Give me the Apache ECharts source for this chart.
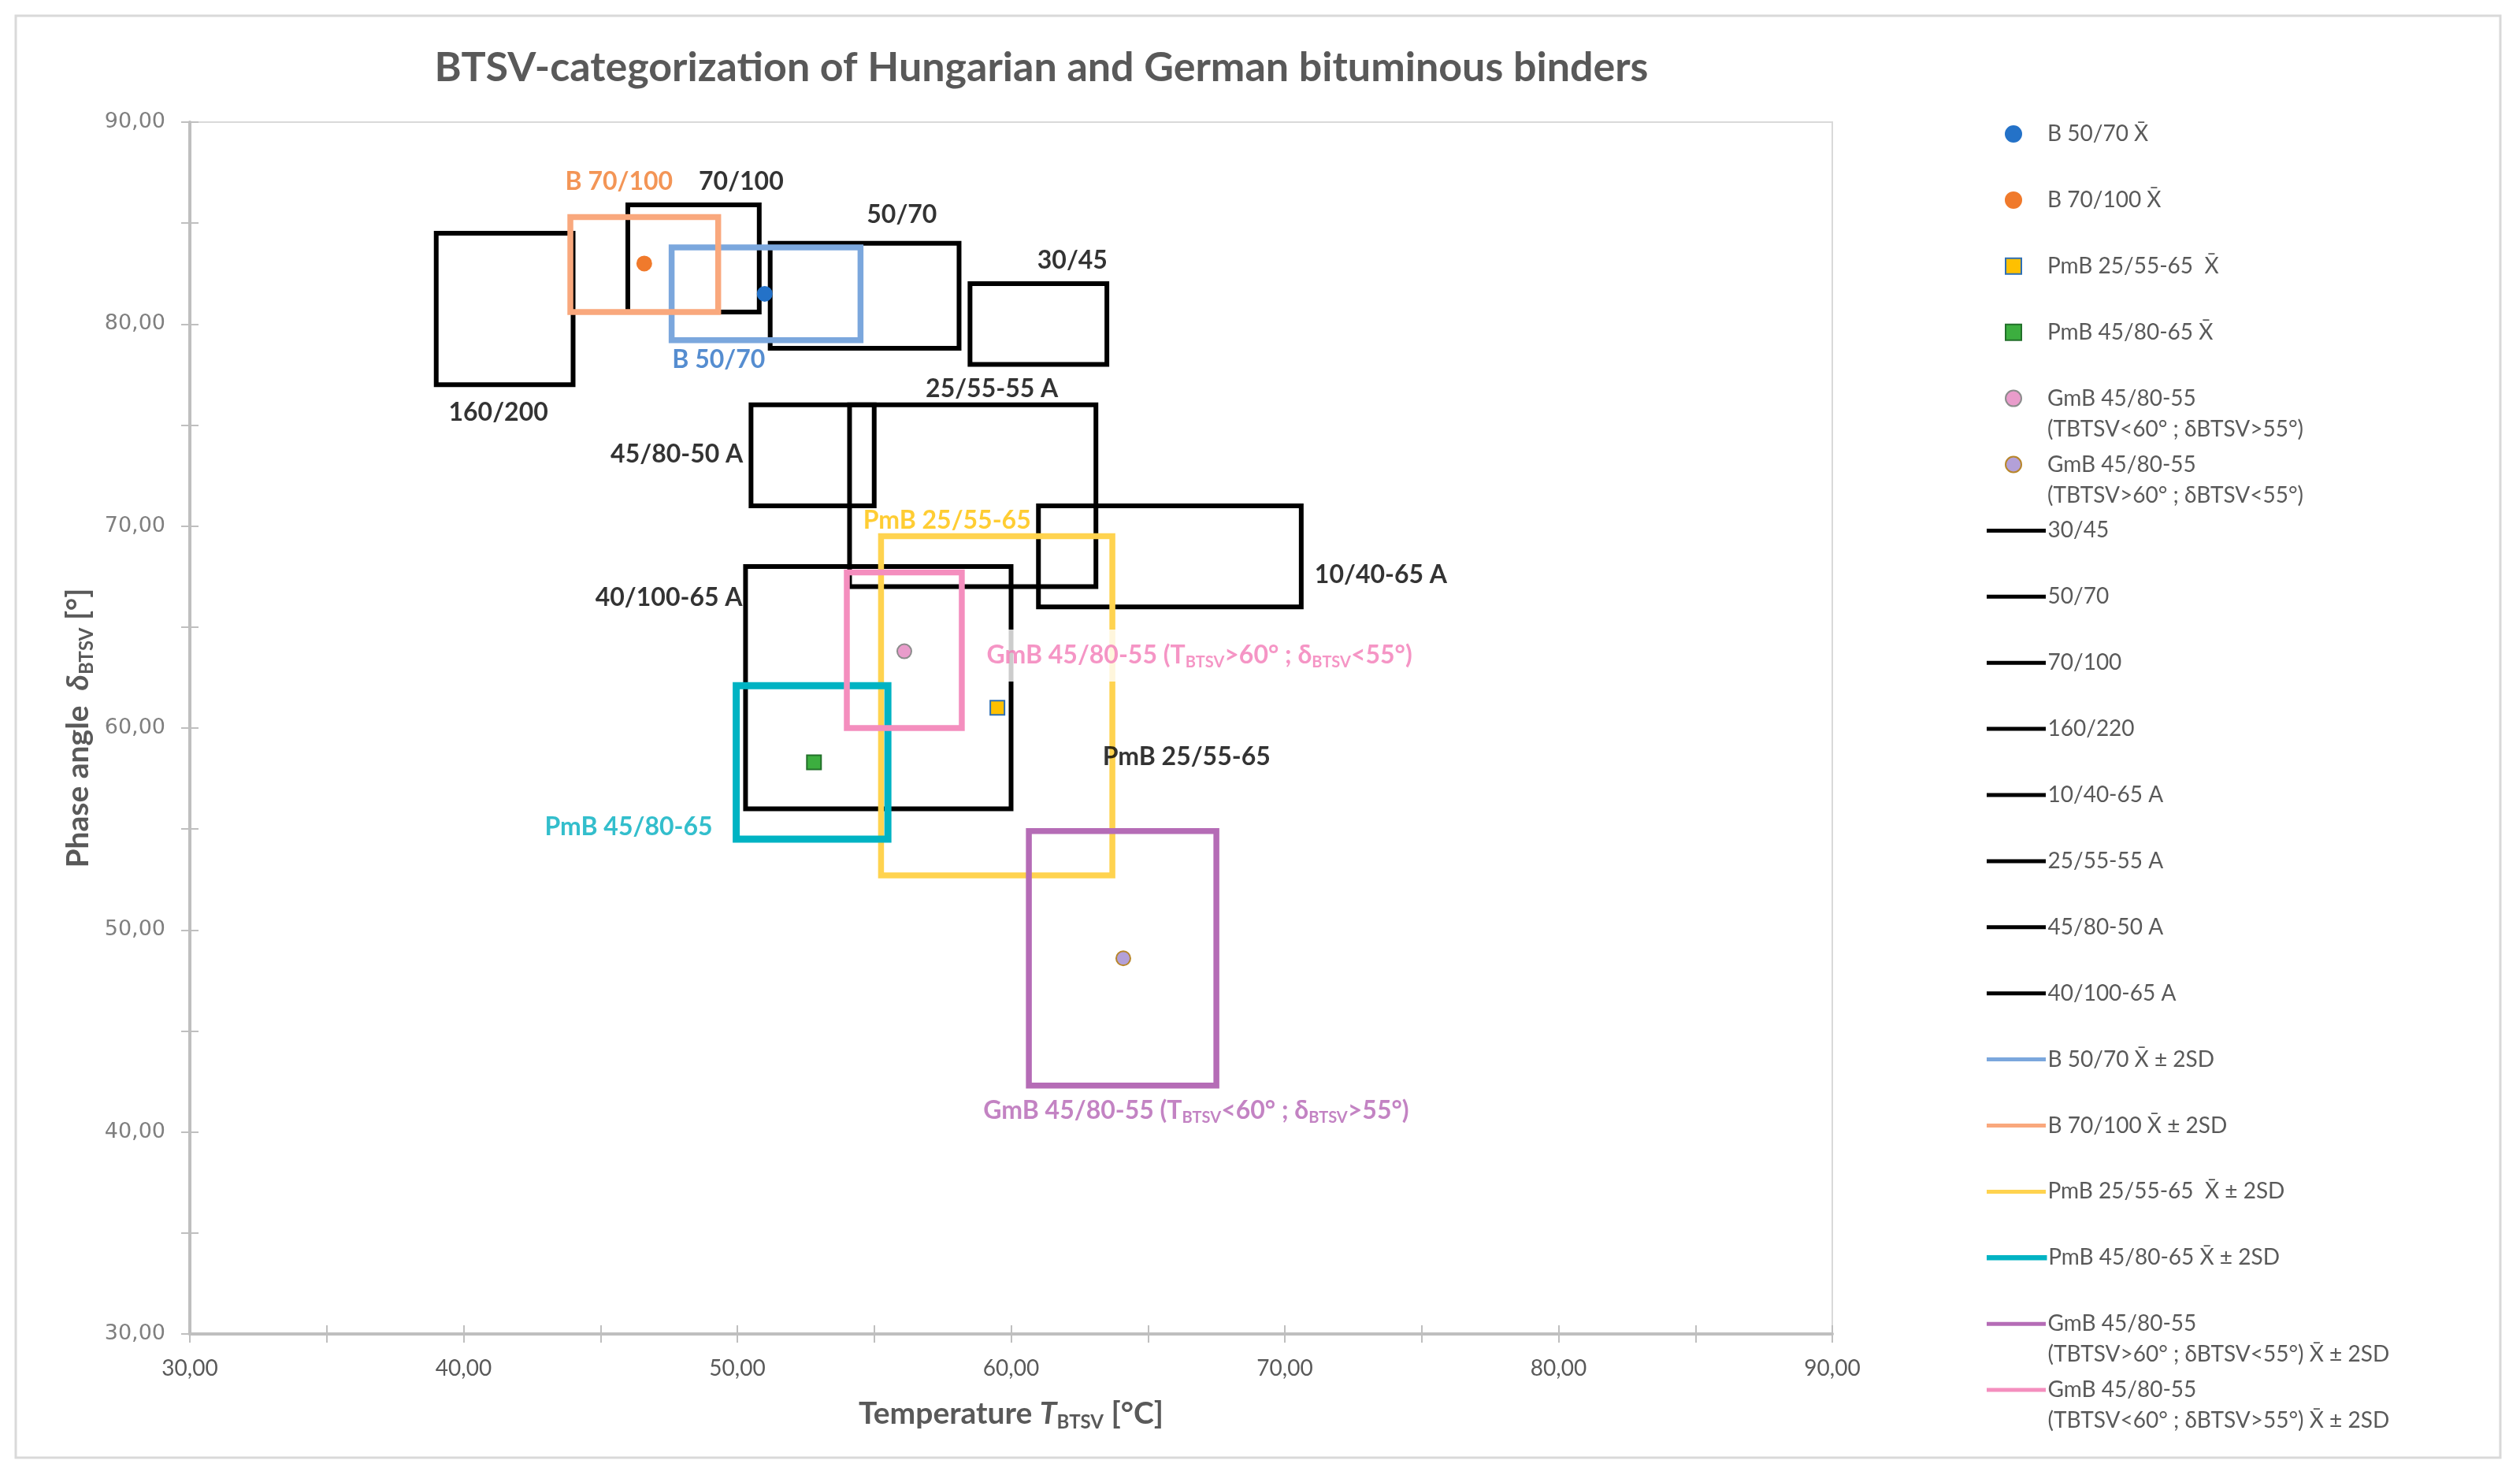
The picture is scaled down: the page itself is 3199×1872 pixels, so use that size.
<!DOCTYPE html>
<html><head><meta charset="utf-8">
<script src="https://cdn.jsdelivr.net/npm/echarts@6/dist/echarts.min.js"></script>
<style>html,body{margin:0;padding:0;background:#fff}#c{width:3199px;height:1872px}</style>
</head><body><div id="c"></div>
<script>
// ---------- DATA ----------
const XBAR = 'X\u0304';
const pointNames = ['B 50/70 ' + XBAR, 'B 70/100 ' + XBAR, 'PmB 25/55-65  ' + XBAR, 'PmB 45/80-65 ' + XBAR,
  'GmB 45/80-55\n(TBTSV<60° ; δBTSV>55°)', 'GmB 45/80-55\n(TBTSV>60° ; δBTSV<55°)'];
const pointT = [51.0, 46.6, 59.5, 52.8, 56.1, 64.1];
const pointD = [81.5, 83.0, 61.0, 58.3, 63.8, 48.6];

const boxNames = ['30/45', '50/70', '70/100', '160/220', '10/40-65 A', '25/55-55 A', '45/80-50 A', '40/100-65 A',
  'B 50/70 ' + XBAR + ' ± 2SD', 'B 70/100 ' + XBAR + ' ± 2SD', 'PmB 25/55-65  ' + XBAR + ' ± 2SD', 'PmB 45/80-65 ' + XBAR + ' ± 2SD',
  'GmB 45/80-55\n(TBTSV>60° ; δBTSV<55°) ' + XBAR + ' ± 2SD', 'GmB 45/80-55\n(TBTSV<60° ; δBTSV>55°) ' + XBAR + ' ± 2SD'];
const boxTmin = [58.5, 51.2, 46.0, 39.0, 61.0, 54.1, 50.5, 50.3, 47.6, 43.9, 55.25, 49.96, 60.65, 54.0];
const boxTmax = [63.5, 58.1, 50.8, 44.0, 70.6, 63.1, 55.0, 60.0, 54.5, 49.3, 63.7, 55.5, 67.5, 58.2];
const boxDmin = [78.0, 78.8, 80.6, 77.0, 66.0, 67.0, 71.0, 56.0, 79.2, 80.6, 52.7, 54.5, 42.3, 60.0];
const boxDmax = [82.0, 84.0, 85.9, 84.5, 71.0, 76.0, 76.0, 68.0, 83.8, 85.3, 69.5, 62.1, 54.9, 67.7];

const annoText = ['B 70/100', '70/100', '50/70', '30/45', 'B 50/70', '160/200', '25/55-55 A', '45/80-50 A', 'PmB 25/55-65',
  '10/40-65 A', '40/100-65 A', '{m|GmB 45/80-55 (T}{s|BTSV}{m|>60° ; δ}{s|BTSV}{m|<55°)}', 'PmB 25/55-65', 'PmB 45/80-65',
  '{m|GmB 45/80-55 (T}{s|BTSV}{m|<60° ; δ}{s|BTSV}{m|>55°)}'];
const annoT = [45.68, 50.14, 56.01, 62.24, 49.32, 41.27, 59.3, 47.79, 57.66, 73.51, 47.5, 66.88, 66.41, 46.03, 66.76];
const annoD = [87.06, 87.06, 85.39, 83.16, 78.23, 75.6, 76.8, 73.53, 70.27, 67.57, 66.45, 63.59, 58.58, 55.08, 41.07];

const xTicks = [30, 90, 10];
const yTicks = [30, 90, 10];

// ---------- STYLES ----------
const pointSymbol = ['circle', 'circle', 'rect', 'rect', 'circle', 'circle'];
const pointFill = ['#2472c8', '#f07a2c', '#ffc000', '#3cae3f', '#e99ccb', '#b3a0d8'];
const pointBorder = ['#2472c8', '#f07a2c', '#2e6fb5', '#22702a', '#8c8c8c', '#b8862a'];
const boxColor = ['#000', '#000', '#000', '#000', '#000', '#000', '#000', '#000',
  '#7ba7dd', '#f9a87d', '#ffd34f', '#00b3c3', '#b56cb6', '#f48ebe'];
const boxWidth = [6, 6, 6, 6, 6, 6, 6, 6, 7.5, 7.5, 7.5, 9, 7.5, 7.5];
const legLineWidth = [5, 5, 5, 5, 5, 5, 5, 5, 5, 5, 5, 6.5, 5, 5];
const annoColor = ['#f07a2c', '#000', '#000', '#000', '#2a70c4', '#000', '#000', '#000', '#ffc000',
  '#000', '#000', '#f27bb6', '#000', '#00aebf', '#b464b4'];
const annoBg = [null, null, null, null, null, null, null, null, null, null, null, '#fff', null, null, null];
const FONT = 'Lato';
const GRAY = '#595959';

// ---------- BUILD ----------
const series = [];
boxNames.forEach((name, i) => {
  const x0 = boxTmin[i], x1 = boxTmax[i], y0 = boxDmin[i], y1 = boxDmax[i];
  series.push({
    type: 'line', name, symbol: 'none', showSymbol: false, silent: true, z: 2,
    data: [[x0, y0], [x1, y0], [x1, y1], [x0, y1], [x0, y0]],
    lineStyle: { color: boxColor[i], width: boxWidth[i], join: 'miter', cap: 'square' },
    itemStyle: { color: boxColor[i] }
  });
});
pointNames.forEach((name, i) => {
  series.push({
    type: 'scatter', name, symbol: pointSymbol[i], symbolSize: 18, z: 4, silent: true,
    data: [[pointT[i], pointD[i]]],
    itemStyle: { color: pointFill[i], borderColor: pointBorder[i], borderWidth: 2, opacity: 1 }
  });
});
const richSub = {
  m: { fontFamily: FONT, fontSize: 32, fontWeight: 'bold' },
  s: { fontFamily: FONT, fontSize: 20, fontWeight: 'bold', padding: [18, 0, 0, 0] }
};
series.push({
  type: 'scatter', name: 'annotations', symbolSize: 1, z: 6, silent: true,
  itemStyle: { color: 'rgba(0,0,0,0)' },
  data: annoText.map((t, i) => ({
    value: [annoT[i], annoD[i]], name: t,
    label: Object.assign({ color: annoColor[i] }, annoBg[i] ? { backgroundColor: annoBg[i], padding: [14, 8] } : {})
  })),
  label: {
    show: true, position: 'inside', formatter: p => p.name,
    fontFamily: FONT, fontSize: 32, fontWeight: 'bold', rich: richSub
  }
});

const LEG_TOP = 170, LEG_STEP = 83.9, LEG_LH = 39;
const legText = { fontFamily: FONT, fontSize: 28, color: GRAY, lineHeight: LEG_LH };
const legends = [];
pointNames.forEach((name, i) => {
  const two = name.indexOf('\n') >= 0;
  const c = LEG_TOP + LEG_STEP * i;
  const lines = (two ? [' '] : []).concat(name.split('\n'));
  legends.push({
    orient: 'vertical', left: 2545, top: c - (two ? LEG_LH * 1.5 : LEG_LH / 2),
    data: [name], itemWidth: 20, itemHeight: 20, itemGap: 0, padding: 0, selectedMode: false,
    formatter: () => lines.map(l => '{p|' + l + '}').join('\n'),
    textStyle: Object.assign({ rich: { p: Object.assign({ padding: [0, 0, 0, 28] }, legText) } }, legText)
  });
});
boxNames.forEach((name, j) => {
  const i = pointNames.length + j;
  const two = name.indexOf('\n') >= 0;
  const c = LEG_TOP + LEG_STEP * i;
  legends.push({
    orient: 'vertical', left: 2522, top: c - (two ? LEG_LH * 1.5 : LEG_LH / 2),
    data: [name], itemWidth: 70, itemHeight: 10, itemGap: 0, padding: 0, selectedMode: false,
    formatter: n => (two ? ' \n' : '') + n,
    itemStyle: { color: 'rgba(0,0,0,0)', borderWidth: 0, opacity: 0 },
    lineStyle: { width: legLineWidth[j], color: boxColor[j] },
    textStyle: legText
  });
});

const numFmt = v => v.toFixed(2).replace('.', ',');
const baseAxis = (ticks) => ({
  type: 'value', min: ticks[0], max: ticks[1], interval: ticks[2],
  splitLine: { show: false }
});
const nameRich = {
  n: { fontFamily: FONT, fontSize: 39, fontWeight: 'bold', color: GRAY },
  i: { fontFamily: FONT, fontSize: 39, fontWeight: 'bold', fontStyle: 'italic', color: GRAY },
  s: { fontFamily: FONT, fontSize: 24, fontWeight: 'bold', color: GRAY, padding: [22, 0, 0, 0] }
};
const tickStyle = { color: '#bfbfbf', width: 2 };

const option = {
  animation: false,
  backgroundColor: '#fff',
  grid: { left: 241, right: 873, top: 155, bottom: 179, show: true, borderColor: '#d9d9d9', borderWidth: 2,
    outerBoundsMode: 'none', containLabel: false },
  xAxis: [
    Object.assign(baseAxis(xTicks), {
      position: 'bottom',
      axisLine: { show: true, lineStyle: { color: '#bfbfbf', width: 4 } },
      axisTick: { show: true, length: 11, lineStyle: tickStyle },
      minorTick: { show: true, splitNumber: 2, length: 11, lineStyle: tickStyle },
      axisLabel: { formatter: numFmt, fontFamily: FONT, fontSize: 28, color: GRAY, margin: 30 },
      name: '{n|Temperature }{i|T}{s|BTSV}{n| [°C]}', nameLocation: 'middle', nameGap: 78, nameMoveOverlap: false,
      nameTextStyle: { rich: nameRich }
    }),
    Object.assign(baseAxis(xTicks), {
      position: 'bottom', axisLine: { show: false }, axisLabel: { show: false },
      axisTick: { show: true, inside: true, length: 11, lineStyle: tickStyle },
      minorTick: { show: true, splitNumber: 2, length: 11, lineStyle: tickStyle }
    })
  ],
  yAxis: [
    Object.assign(baseAxis(yTicks), {
      position: 'left',
      axisLine: { show: true, lineStyle: { color: '#bfbfbf', width: 4 } },
      axisTick: { show: true, length: 11, lineStyle: tickStyle },
      minorTick: { show: true, splitNumber: 2, length: 11, lineStyle: tickStyle },
      axisLabel: { formatter: numFmt, fontFamily: 'DejaVu Sans', fontSize: 27, color: '#7f7f7f', margin: 31 },
      name: '{n|Phase angle  }{i|δ}{s|BTSV}{n| [°]}', nameLocation: 'middle', nameGap: 119, nameRotate: 90, nameMoveOverlap: false,
      nameTextStyle: { rich: nameRich }
    }),
    Object.assign(baseAxis(yTicks), {
      position: 'left', axisLine: { show: false }, axisLabel: { show: false },
      axisTick: { show: true, inside: true, length: 11, lineStyle: tickStyle },
      minorTick: { show: true, splitNumber: 2, length: 11, lineStyle: tickStyle }
    })
  ],
  legend: legends,
  series: series,
  graphic: [
    { type: 'rect', shape: { x: 20, y: 20, width: 3154, height: 1830 }, style: { fill: null, stroke: '#d9d9d9', lineWidth: 3 }, silent: true, z: -1 },
    { type: 'text', x: 1322, y: 86, silent: true,
      style: { text: 'BTSV-categorization of Hungarian and German bituminous binders', fill: GRAY,
        font: 'bold 52px Lato', textAlign: 'center', textVerticalAlign: 'middle' } }
  ]
};
const chart = echarts.init(document.getElementById('c'));
chart.setOption(option);
</script>
</body></html>
